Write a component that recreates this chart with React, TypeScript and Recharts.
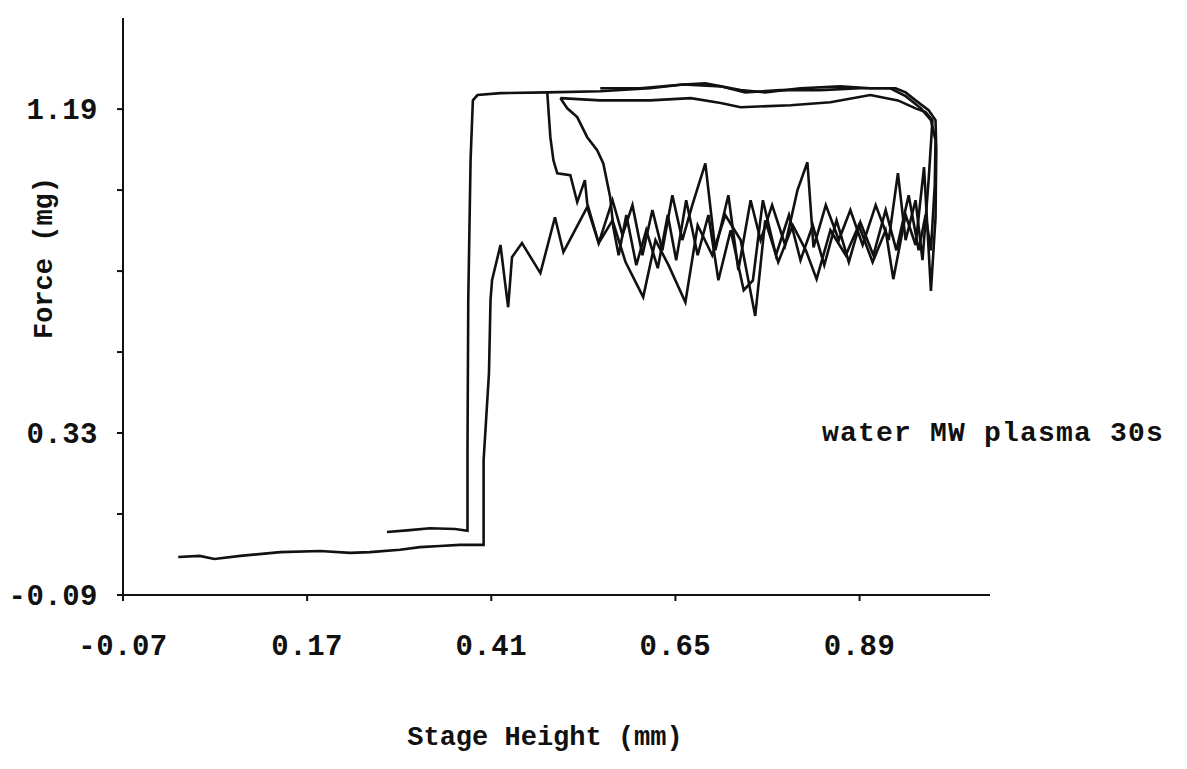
import { LineChart, Line, XAxis, YAxis } from "recharts";

// stage height (mm), force (mg)
const cycle1: [number, number][] = [
  [0.002, 0.01], [0.03, 0.013], [0.049, 0.005], [0.083, 0.013], [0.135, 0.023],
  [0.187, 0.026], [0.226, 0.021], [0.252, 0.023], [0.291, 0.029], [0.317, 0.036],
  [0.343, 0.039], [0.369, 0.042], [0.4, 0.042], [0.4, 0.265], [0.407, 0.495],
  [0.409, 0.687], [0.411, 0.739], [0.422, 0.832], [0.428, 0.732], [0.432, 0.668],
  [0.437, 0.8], [0.45, 0.837], [0.474, 0.758], [0.493, 0.905], [0.504, 0.813],
  [0.535, 0.932], [0.55, 0.837], [0.568, 0.897], [0.585, 0.787], [0.608, 0.695],
  [0.624, 0.845], [0.641, 0.779], [0.663, 0.681], [0.679, 0.884], [0.698, 0.805],
  [0.715, 0.911], [0.735, 0.845], [0.754, 0.645], [0.767, 0.897], [0.784, 0.787],
  [0.803, 0.884], [0.82, 0.818], [0.834, 0.742], [0.852, 0.871], [0.872, 0.805],
  [0.889, 0.884], [0.907, 0.787], [0.924, 0.871], [0.934, 0.742], [0.95, 0.911],
  [0.963, 0.832], [0.974, 1.037], [0.983, 0.711], [0.989, 0.903], [0.99, 1.082],
  [0.989, 1.161], [0.98, 1.187], [0.963, 1.213], [0.95, 1.234], [0.937, 1.245],
  [0.904, 1.245], [0.865, 1.25], [0.813, 1.245], [0.767, 1.234], [0.735, 1.24],
  [0.689, 1.258], [0.66, 1.255], [0.617, 1.245], [0.552, 1.237], [0.483, 1.234],
  [0.422, 1.232], [0.392, 1.227], [0.386, 1.213], [0.383, 1.055], [0.38, 0.687],
  [0.379, 0.292], [0.379, 0.079], [0.363, 0.084], [0.33, 0.086], [0.304, 0.081],
  [0.274, 0.076],
];

const cycle2: [number, number][] = [
  [0.483, 1.232], [0.487, 1.116], [0.491, 1.055], [0.496, 1.021], [0.513, 1.016],
  [0.522, 0.945], [0.532, 1.003], [0.535, 0.942], [0.55, 0.837], [0.568, 0.95],
  [0.581, 0.858], [0.594, 0.937], [0.607, 0.805], [0.62, 0.924], [0.633, 0.818],
  [0.646, 0.963], [0.659, 0.845], [0.672, 0.937], [0.689, 1.047], [0.702, 0.818],
  [0.719, 0.963], [0.732, 0.766], [0.748, 0.95], [0.761, 0.845], [0.776, 0.937],
  [0.793, 0.832], [0.809, 0.976], [0.822, 1.05], [0.83, 0.826], [0.846, 0.937],
  [0.863, 0.845], [0.878, 0.924], [0.894, 0.832], [0.911, 0.937], [0.928, 0.845],
  [0.94, 1.021], [0.95, 0.845], [0.963, 0.95], [0.972, 0.792], [0.98, 1.003],
  [0.985, 1.161], [0.976, 1.182], [0.963, 1.192], [0.94, 1.213], [0.904, 1.227],
  [0.852, 1.208], [0.8, 1.2], [0.735, 1.195], [0.709, 1.206], [0.67, 1.219],
  [0.617, 1.213], [0.552, 1.213], [0.5, 1.219],
];

const cycle3: [number, number][] = [
  [0.5, 1.219], [0.509, 1.192], [0.522, 1.169], [0.535, 1.116], [0.548, 1.082],
  [0.556, 1.047], [0.565, 0.958], [0.569, 0.879], [0.576, 0.805], [0.586, 0.911],
  [0.599, 0.779], [0.612, 0.871], [0.627, 0.771], [0.64, 0.911], [0.651, 0.792],
  [0.664, 0.95], [0.679, 0.805], [0.693, 0.911], [0.706, 0.739], [0.722, 0.871],
  [0.739, 0.713], [0.751, 0.739], [0.764, 0.95], [0.781, 0.805], [0.798, 0.911],
  [0.813, 0.792], [0.829, 0.884], [0.844, 0.779], [0.86, 0.897], [0.876, 0.787],
  [0.891, 0.892], [0.908, 0.805], [0.924, 0.924], [0.938, 0.818], [0.954, 0.963],
  [0.967, 0.818], [0.976, 0.911], [0.983, 0.818], [0.988, 0.99], [0.989, 1.108],
  [0.983, 1.161], [0.97, 1.192], [0.95, 1.224], [0.93, 1.245], [0.891, 1.245],
  [0.839, 1.24], [0.787, 1.24], [0.741, 1.234], [0.709, 1.25], [0.66, 1.255],
  [0.604, 1.245], [0.552, 1.245],
];

const xTicks = [-0.07, 0.17, 0.41, 0.65, 0.89];
const yTicks = [-0.09, 0.1233, 0.3367, 0.55, 0.7633, 0.9767, 1.19];
const yTickLabels = ["-0.09", "", "0.33", "", "", "", "1.19"];

const toPoints = (arr: [number, number][]) => arr.map(([x, y]) => ({ x, y }));

const font = "'Liberation Mono', 'DejaVu Sans Mono', monospace";
const titleStyle = { fontFamily: font, fontSize: 27, fontWeight: 700, fill: "#111" };
const tickStyle = { fontFamily: font, fontSize: 29, fontWeight: 700, fill: "#111", letterSpacing: 0.5 };
const noteStyle = { fontFamily: font, fontSize: 28, fontWeight: 700, fill: "#111", letterSpacing: 1.2 };

export default function App() {
  return (
    <div style={{ position: "absolute", left: 0, top: 0, background: "#fff" }}>
      <LineChart
        width={1187}
        height={769}
        margin={{ top: 18, right: 197, bottom: 0, left: 0 }}
      >
        <XAxis
          dataKey="x"
          type="number"
          domain={[-0.07, 1.06]}
          ticks={xTicks}
          tickFormatter={(v: number) => v.toFixed(2)}
          height={174}
          stroke="#111"
          strokeWidth={2}
          tickSize={6}
          tickMargin={33}
          tick={tickStyle}
          allowDataOverflow
        />
        <YAxis
          dataKey="y"
          type="number"
          domain={[-0.09, 1.43]}
          ticks={yTicks}
          tickFormatter={(v: number) => yTickLabels[yTicks.indexOf(v)] ?? ""}
          width={123}
          stroke="#111"
          strokeWidth={2}
          tickSize={6}
          tickMargin={19}
          tick={tickStyle}
          allowDataOverflow
        />
        <Line data={toPoints(cycle1)} dataKey="y" stroke="#111" strokeWidth={2.6} dot={false} isAnimationActive={false} />
        <Line data={toPoints(cycle2)} dataKey="y" stroke="#111" strokeWidth={2.6} dot={false} isAnimationActive={false} />
        <Line data={toPoints(cycle3)} dataKey="y" stroke="#111" strokeWidth={2.6} dot={false} isAnimationActive={false} />
        <text x={45} y={258} transform="rotate(-90 45 258)" textAnchor="middle" dominantBaseline="central" style={titleStyle}>
          Force (mg)
        </text>
        <text x={545} y={738} textAnchor="middle" dominantBaseline="central" style={titleStyle}>
          Stage Height (mm)
        </text>
        <text x={822} y={433} dominantBaseline="central" style={noteStyle}>
          water MW plasma 30s
        </text>
      </LineChart>
    </div>
  );
}
